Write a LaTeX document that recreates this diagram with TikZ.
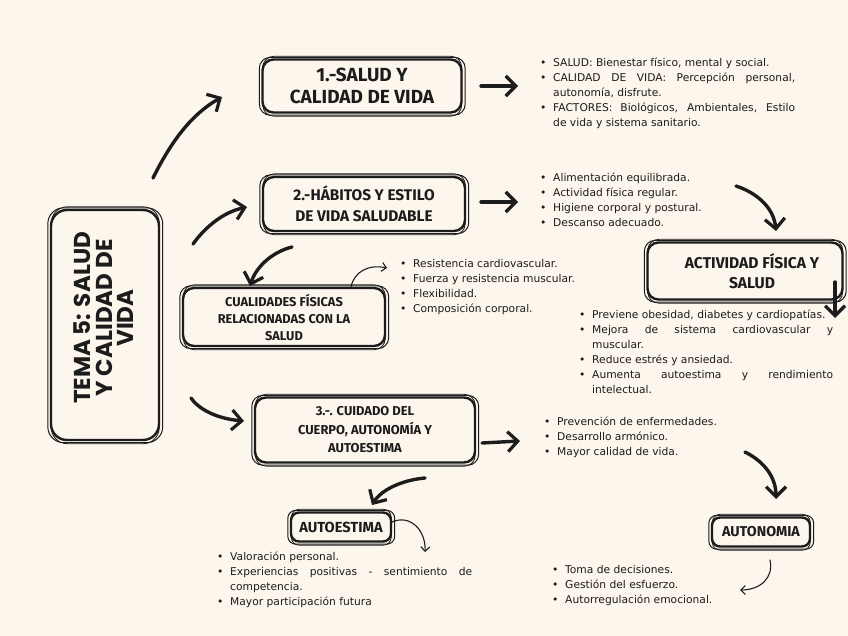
\documentclass[tikz,border=0pt]{standalone}
\usepackage{fontspec}
\setmainfont{DejaVu Sans}
\newfontfamily\hfont{Fira Sans}
\newfontfamily\tfont{Poppins}
\usetikzlibrary{arrows.meta}
\definecolor{bg}{HTML}{FCF6EC}
\definecolor{ink}{HTML}{1C1C1C}
\newcommand\bitem{\par\noindent\hangindent=12pt\hangafter=1\makebox[12pt][l]{\hspace*{-1pt}\textbullet}}
\newcommand\sketch[2][11pt]{%
 \draw[ink, line width=1pt, rounded corners=#1] ([shift={(-2pt,-1.5pt)}]#2.south west) rectangle ([shift={(2.5pt,1pt)}]#2.north east);
 \draw[ink, line width=0.8pt, rounded corners=#1] ([shift={(1.5pt,-2.5pt)}]#2.south west) rectangle ([shift={(-1pt,2pt)}]#2.north east);
}
\tikzset{
 box/.style={draw=ink, line width=2.4pt, rounded corners=11pt, inner sep=0pt, align=center, text=ink},
 hd/.style args={#1/#2}{font=\hfont\bfseries\fontsize{#1}{#2}\selectfont},
 blist/.style={anchor=north west, inner sep=0pt, text=ink, align=justify, font=\fontsize{10.7}{15}\selectfont},
 bigarrow/.style={draw=ink, line width=3.4pt, line cap=round, -{Straight Barb[length=10pt,width=20pt,line width=3.2pt]}},
 thinarrow/.style={draw=ink, line width=1.1pt, line cap=round, -{Straight Barb[length=4.5pt,width=9pt,line width=1.1pt]}},
}
\begin{document}
\begin{tikzpicture}[x=1pt,y=-1pt]
\fill[bg] (0,0) rectangle (848,636);
\useasboundingbox (0,0) rectangle (848,636);

% main topic
\node[box, rounded corners=16pt, minimum width=108pt, minimum height=230pt] (tema) at (105,325) {};
\sketch[16pt]{tema}
\node[rotate=90, text=ink, align=center, font=\tfont\bfseries\fontsize{23}{21.5}\selectfont] (temat) at (104,318) {TEMA 5: SALUD\\Y CALIDAD DE\\VIDA};

% boxes
\node[box, hd=19/22, minimum width=199pt, minimum height=53pt] (b1) at (362,86) {1.-SALUD Y\\CALIDAD DE VIDA};
\sketch{b1}
\node[box, hd=15.4/21, minimum width=202pt, minimum height=54pt] (b2) at (364,204) {2.-HÁBITOS Y ESTILO\\DE VIDA SALUDABLE};
\sketch{b2}
\node[box, hd=12.8/17, minimum width=202pt, minimum height=58pt] (bc) at (284,317) {CUALIDADES FÍSICAS\\RELACIONADAS CON LA\\SALUD};
\sketch{bc}
\node[box, hd=12.9/18.5, minimum width=220pt, minimum height=65pt] (b3) at (365,430) {3.-. CUIDADO DEL\\CUERPO, AUTONOMÍA Y\\AUTOESTIMA};
\sketch{b3}
\node[box, hd=15.6/20, minimum width=195pt, minimum height=57pt] (ba) at (745,271) {\hspace*{14pt}ACTIVIDAD FÍSICA Y\\\hspace*{14pt}SALUD};
\sketch{ba}
\node[box, hd=14.6/20, rounded corners=8pt, minimum width=100pt, minimum height=29pt] (be) at (341,527) {AUTOESTIMA};
\sketch[8pt]{be}
\node[box, hd=14.3/20, rounded corners=8pt, minimum width=98pt, minimum height=29pt] (bn) at (761,532) {AUTONOMIA};
\sketch[8pt]{bn}

% lists
\node[blist, text width=254pt] (l1) at (541,51) {%
\bitem SALUD: Bienestar físico, mental y social.
\bitem CALIDAD DE VIDA: Percepción personal,\linebreak autonomía, disfrute.
\bitem FACTORES: Biológicos, Ambientales, Estilo\linebreak de vida y sistema sanitario.\par};
\node[blist, text width=254pt] (l2) at (541,166) {%
\bitem Alimentación equilibrada.
\bitem Actividad física regular.
\bitem Higiene corporal y postural.
\bitem Descanso adecuado.\par};
\node[blist, text width=200pt] (lc) at (401,252) {%
\bitem Resistencia cardiovascular.
\bitem Fuerza y resistencia muscular.
\bitem Flexibilidad.
\bitem Composición corporal.\par};
\node[blist, text width=253pt] (la) at (580,303) {%
\bitem Previene obesidad, diabetes y cardiopatías.
\bitem Mejora de sistema cardiovascular y\linebreak muscular.
\bitem Reduce estrés y ansiedad.
\bitem Aumenta autoestima y rendimiento\linebreak intelectual.\par};
\node[blist, text width=200pt] (l3) at (545,410) {%
\bitem Prevención de enfermedades.
\bitem Desarrollo armónico.
\bitem Mayor calidad de vida.\par};
\node[blist, text width=200pt] (ln) at (553,558) {%
\bitem Toma de decisiones.
\bitem Gestión del esfuerzo.
\bitem Autorregulación emocional.\par};
\node[blist, text width=254pt] (le) at (218,545) {%
\bitem Valoración personal.
\bitem Experiencias positivas - sentimiento de\linebreak competencia.
\bitem Mayor participación futura\par};

% arrow end points
\coordinate (a1s) at (153,178); \coordinate (a1e) at (222,97);
\coordinate (a2s) at (193,244); \coordinate (a2e) at (247,207);
\coordinate (a3s) at (191,398); \coordinate (a3e) at (244,421);
\coordinate (r1s) at (481,86);  \coordinate (r1e) at (518,86);
\coordinate (r2s) at (481,202); \coordinate (r2e) at (518,202);
\coordinate (r3s) at (482,443); \coordinate (r3e) at (520,441);
\coordinate (dcs) at (292,247); \coordinate (dce) at (250,286);
\coordinate (das) at (736,186); \coordinate (dae) at (776,231);
\coordinate (vas) at (835,282); \coordinate (vae) at (835,318);
\coordinate (dns) at (745,452); \coordinate (dne) at (776,499);
\coordinate (des) at (425,478); \coordinate (dee) at (372,505);
\coordinate (tcs) at (351,287); \coordinate (tce) at (387,268);
\coordinate (tes) at (392,522); \coordinate (tee) at (425,552);
\coordinate (tns) at (770,560); \coordinate (tne) at (740,590);

\draw[bigarrow] (a1s) .. controls (172,140) and (192,114) .. (a1e);
\draw[bigarrow] (a2s) .. controls (206,226) and (224,212) .. (a2e);
\draw[bigarrow] (a3s) .. controls (200,411) and (220,419) .. (a3e);
\draw[bigarrow] (r1s) -- (r1e);
\draw[bigarrow] (r2s) -- (r2e);
\draw[bigarrow] (r3s) -- (r3e);
\draw[bigarrow] (dcs) .. controls (272,252) and (256,267) .. (dce);
\draw[bigarrow] (das) .. controls (760,194) and (774,210) .. (dae);
\draw[bigarrow] (vas) -- (vae);
\draw[bigarrow] (dns) .. controls (765,462) and (776,478) .. (dne);
\draw[bigarrow] (des) .. controls (402,480) and (381,490) .. (dee);
\draw[thinarrow] (tcs) .. controls (354,272) and (368,264) .. (tce);
\draw[thinarrow] (tes) .. controls (410,514) and (426,530) .. (tee);
\draw[thinarrow] (tns) .. controls (774,578) and (760,590) .. (tne);
\end{tikzpicture}
\end{document}
